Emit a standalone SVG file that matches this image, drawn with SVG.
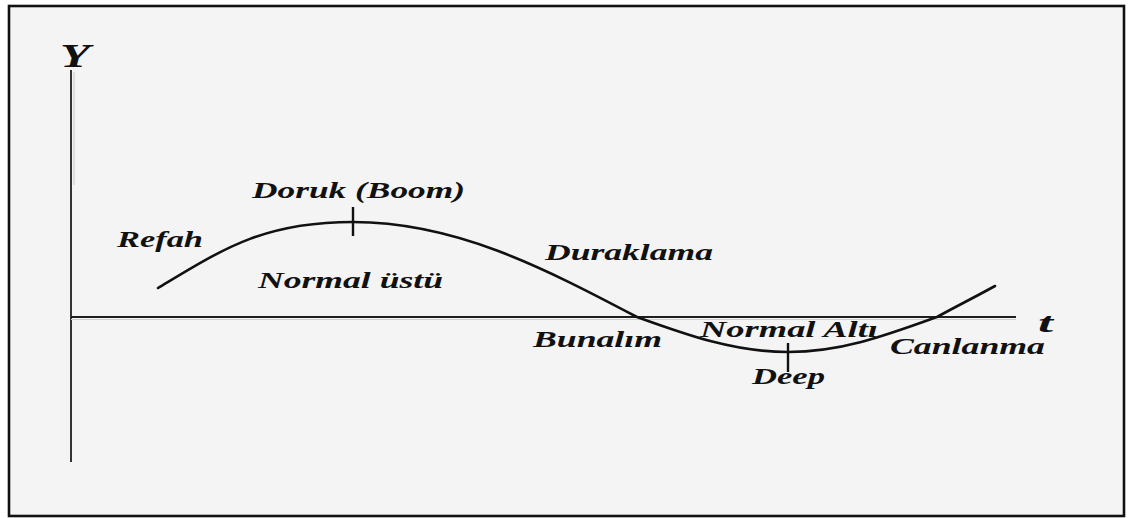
<svg xmlns="http://www.w3.org/2000/svg" width="1129" height="518" viewBox="0 0 1129 518">
  <style>
    .lbl { font-family: "Liberation Serif", "Times New Roman", serif; font-weight: bold; font-style: italic; font-size: 23px; fill: #111; }
    .axis { stroke: #1e1e1e; stroke-width: 1.8; fill: none; }
    .curve { stroke: #111; stroke-width: 2.6; fill: none; stroke-linecap: round; }
    .tick { stroke: #111; stroke-width: 2.4; }
  </style>
  <rect x="0" y="0" width="1129" height="518" fill="#ffffff"/>
  <g id="frame">
    <rect x="9" y="6" width="1115" height="510" fill="#f4f4f4" stroke="#111" stroke-width="2.6"/>
  </g>
  <g id="axes">
    <line class="axis" x1="71" y1="70" x2="71" y2="462"/>
    <line x1="74" y1="72" x2="74" y2="185" stroke="#c8c8c8" stroke-width="1"/>
    <line class="axis" x1="71" y1="317" x2="1016" y2="317"/>
    <line x1="71" y1="319.5" x2="1016" y2="319.5" stroke="#cfcfcf" stroke-width="1"/>
  </g>
  <g id="connectors">
    <path class="curve" d="M158,288 C223,249 263,222 353,222 C455,222 542,267 637,317 C687,335 734,352 788,352 C842,352 887,335 937,317 C957,306 977,296 995,286"/>
    <line class="tick" x1="353" y1="207" x2="353" y2="236"/>
    <line class="tick" x1="788" y1="343" x2="788" y2="372"/>
  </g>
  <g id="label-y"><text class="lbl" x="60" y="67" style="font-size:33px" textLength="30" lengthAdjust="spacingAndGlyphs">Y</text></g>
  <g id="label-t"><text class="lbl" x="1038" y="332" style="font-size:27px" textLength="15" lengthAdjust="spacingAndGlyphs">t</text></g>
  <g id="label-doruk"><text class="lbl" x="252" y="198" textLength="213" lengthAdjust="spacingAndGlyphs">Doruk (Boom)</text></g>
  <g id="label-refah"><text class="lbl" x="117" y="247" textLength="86" lengthAdjust="spacingAndGlyphs">Refah</text></g>
  <g id="label-normal-ustu"><text class="lbl" x="258" y="288" textLength="185" lengthAdjust="spacingAndGlyphs">Normal üstü</text></g>
  <g id="label-duraklama"><text class="lbl" x="545" y="260" textLength="168" lengthAdjust="spacingAndGlyphs">Duraklama</text></g>
  <g id="label-bunalim"><text class="lbl" x="533" y="347" textLength="129" lengthAdjust="spacingAndGlyphs">Bunalım</text></g>
  <g id="label-normal-alti"><text class="lbl" x="700" y="337" textLength="178" lengthAdjust="spacingAndGlyphs">Normal Altı</text></g>
  <g id="label-deep"><text class="lbl" x="752" y="384" textLength="73" lengthAdjust="spacingAndGlyphs">Deep</text></g>
  <g id="label-canlanma"><text class="lbl" x="890" y="354" textLength="155" lengthAdjust="spacingAndGlyphs">Canlanma</text></g>
</svg>
